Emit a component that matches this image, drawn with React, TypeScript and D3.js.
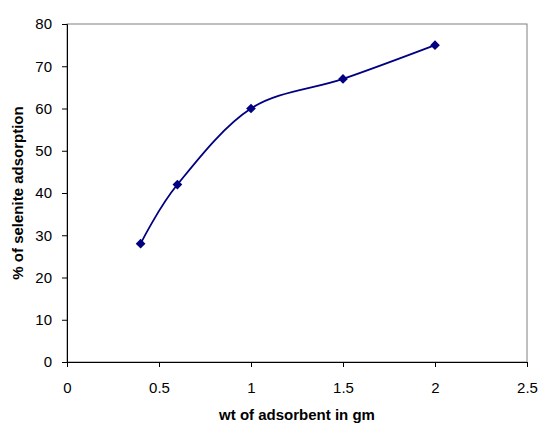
import React, { useEffect, useRef } from "react";
import * as d3 from "d3";

const xValues = [0.4, 0.6, 1, 1.5, 2];
const yValues = [28, 42, 60, 67, 75];
const xTicks = [0, 0.5, 1, 1.5, 2, 2.5];
const yTicks = [0, 10, 20, 30, 40, 50, 60, 70, 80];
const xTitle = "wt of adsorbent in gm";
const yTitle = "% of selenite adsorption";

const width = 542;
const height = 425;
const margin = { top: 24, right: 15, bottom: 63, left: 67 };

const App = () => {
  const ref = useRef<SVGSVGElement>(null);

  useEffect(() => {
    const svg = d3.select(ref.current);
    svg.selectAll("*").remove();

    const x = d3.scaleLinear().domain([0, 2.5]).range([margin.left, width - margin.right]);
    const y = d3.scaleLinear().domain([0, 80]).range([height - margin.bottom, margin.top]);
    const font = "Arial, 'Liberation Sans', sans-serif";

    // plot frame (grey top/right)
    svg
      .append("rect")
      .attr("x", x(0))
      .attr("y", y(80))
      .attr("width", x(2.5) - x(0))
      .attr("height", y(0) - y(80))
      .attr("fill", "none")
      .attr("stroke", "#808080")
      .attr("stroke-width", 1);

    const xAxis = svg
      .append("g")
      .attr("transform", `translate(0,${y(0)})`)
      .call(
        d3.axisBottom(x).tickValues(xTicks).tickSize(5).tickPadding(15).tickFormat((d) => String(d))
      );
    xAxis.select(".domain").attr("stroke", "#000");
    xAxis.selectAll("text").attr("font-size", 15).attr("font-family", font).attr("fill", "#000");

    const yAxis = svg
      .append("g")
      .attr("transform", `translate(${x(0)},0)`)
      .call(d3.axisLeft(y).tickValues(yTicks).tickSize(5).tickPadding(10).tickFormat((d) => String(d)));
    yAxis.select(".domain").attr("stroke", "#000");
    yAxis.selectAll("text").attr("font-size", 15).attr("font-family", font).attr("fill", "#000");

    const points: [number, number][] = xValues.map((v, i) => [v, yValues[i]]);

    const line = d3
      .line<[number, number]>()
      .x((d) => x(d[0]))
      .y((d) => y(d[1]))
      .curve(d3.curveCardinal.tension(0));

    svg
      .append("path")
      .datum(points)
      .attr("d", line)
      .attr("fill", "none")
      .attr("stroke", "#000080")
      .attr("stroke-width", 1.8);

    svg
      .selectAll("marker-pt")
      .data(points)
      .enter()
      .append("path")
      .attr("d", d3.symbol().type(d3.symbolDiamond2).size(60)())
      .attr("transform", (d) => `translate(${x(d[0])},${y(d[1])})`)
      .attr("fill", "#000080");

    svg
      .append("text")
      .attr("x", (x(0) + x(2.5)) / 2)
      .attr("y", 420)
      .attr("text-anchor", "middle")
      .attr("font-size", 15)
      .attr("font-weight", "bold")
      .attr("font-family", font)
      .text(xTitle);

    svg
      .append("text")
      .attr("transform", `translate(23,${(y(0) + y(80)) / 2}) rotate(-90)`)
      .attr("text-anchor", "middle")
      .attr("font-size", 15)
      .attr("font-weight", "bold")
      .attr("font-family", font)
      .text(yTitle);
  }, []);

  return <svg ref={ref} width={width} height={height} style={{ position: "absolute", left: 0, top: 0 }}></svg>;
};

export default App;
